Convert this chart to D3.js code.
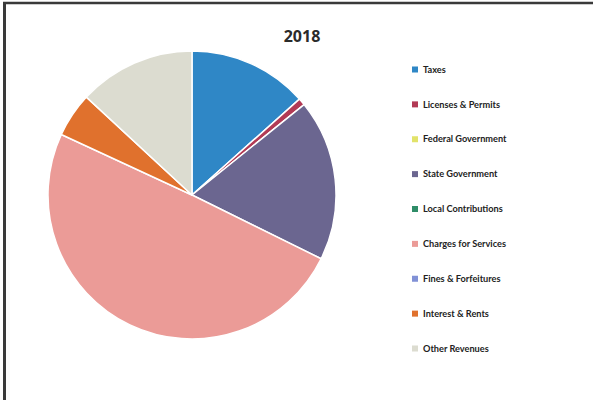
<!DOCTYPE html>
<html>
<head>
<meta charset="utf-8">
<script src="https://cdn.jsdelivr.net/npm/d3@7"></script>
<style>
  html, body { margin: 0; padding: 0; background: #fff; }
  svg { display: block; }
</style>
</head>
<body>
<svg id="chart" width="593" height="400"></svg>
<script>
// Revenue sources, 2018 (share of total, %)
const categories = [
  "Taxes",
  "Licenses & Permits",
  "Federal Government",
  "State Government",
  "Local Contributions",
  "Charges for Services",
  "Fines & Forfeitures",
  "Interest & Rents",
  "Other Revenues"
];
const values = [13.4, 0.8, 0, 18.1, 0, 49.6, 0, 5.0, 13.1];
const colors = [
  "#2f87c6", "#b23a55", "#e2e36a", "#6b6690", "#2f8d68",
  "#eb9b97", "#8191d6", "#e0712d", "#dcdcd0"
];
const title = "2018";

const svg = d3.select("#chart");

// frame lines along the top and left edges
svg.append("line").attr("x1", 3).attr("x2", 593).attr("y1", 3).attr("y2", 3)
  .attr("stroke", "#3a3a3a").attr("stroke-width", 2.5);
svg.append("line").attr("x1", 4.5).attr("x2", 4.5).attr("y1", 2).attr("y2", 400)
  .attr("stroke", "#3a3a3a").attr("stroke-width", 3);

svg.append("text")
  .attr("x", 302).attr("y", 42)
  .attr("text-anchor", "middle")
  .attr("font-family", "'Open Sans', sans-serif")
  .attr("font-weight", 700)
  .attr("font-size", 16)
  .attr("fill", "#2b2b2b")
  .text(title);

const data = categories.map((c, i) => ({ name: c, value: values[i], color: colors[i] }));

const pie = d3.pie().value(d => d.value).sort(null);
const arc = d3.arc().innerRadius(0).outerRadius(144);

const g = svg.append("g").attr("transform", "translate(192,195)");
g.selectAll("path")
  .data(pie(data).filter(d => d.data.value > 0))
  .join("path")
  .attr("d", arc)
  .attr("fill", d => d.data.color)
  .attr("stroke", "#fff")
  .attr("stroke-width", 1.5)
  .attr("stroke-linejoin", "round");

// legend
const legendY = d3.scalePoint().domain(categories).range([69.5, 348.5]);
const lg = svg.append("g");
const item = lg.selectAll("g").data(data).join("g")
  .attr("transform", d => `translate(412,${legendY(d.name)})`);
item.append("rect")
  .attr("x", 0).attr("y", -3).attr("width", 6).attr("height", 6)
  .attr("fill", d => d.color);
item.append("text")
  .attr("x", 11).attr("y", 3.2)
  .attr("font-family", "Lato, sans-serif")
  .attr("font-weight", 700)
  .attr("font-size", 9.2)
  .attr("fill", "#222")
  .text(d => d.name);
</script>
</body>
</html>
